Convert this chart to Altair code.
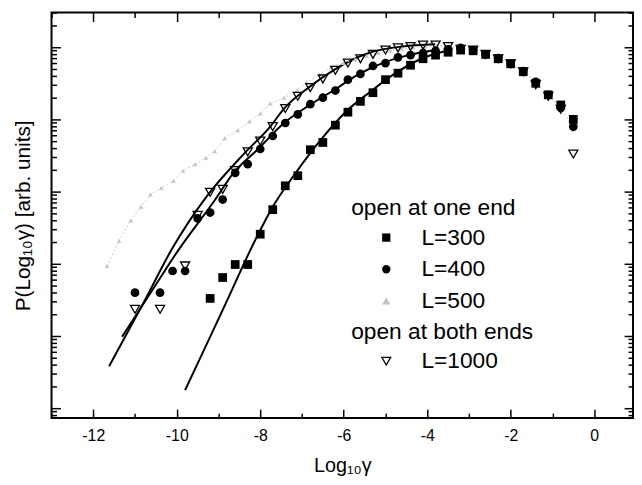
import altair as alt
import pandas as pd

# ---------------- data (x = log10 gamma, lg = log10 P, arbitrary units) -------------
x300 = [-9.2, -8.9, -8.6, -8.3, -8.0, -7.7, -7.4, -7.1, -6.8, -6.5, -6.2, -5.9, -5.6, -5.3,
        -5.0, -4.7, -4.4, -4.1, -3.8, -3.5, -3.2, -2.9, -2.6, -2.3, -2.0, -1.7, -1.4, -1.1,
        -0.8, -0.5]
lg300 = [-3.48, -3.19, -3.01, -3.01, -2.59, -2.25, -1.92, -1.78, -1.42, -1.32, -1.08, -0.90,
         -0.75, -0.63, -0.45, -0.36, -0.25, -0.16, -0.11, -0.07, -0.04, -0.05, -0.10, -0.16,
         -0.23, -0.34, -0.50, -0.66, -0.80, -1.00]

x400 = [-11.0, -10.4, -10.1, -9.8, -9.5, -9.2, -8.9, -8.6, -8.3, -8.0, -7.7, -7.4, -7.1, -6.8,
        -6.5, -6.2, -5.9, -5.6, -5.3, -5.0, -4.7, -4.4, -4.1, -3.8, -3.5, -3.2, -2.9, -2.6,
        -2.3, -2.0, -1.7, -1.4, -1.1, -0.8, -0.5]
lg400 = [-3.40, -3.40, -3.10, -3.10, -2.37, -2.29, -2.11, -1.74, -1.62, -1.41, -1.23, -1.05,
         -0.93, -0.79, -0.70, -0.60, -0.45, -0.37, -0.26, -0.22, -0.14, -0.11, -0.08, -0.05,
         -0.03, -0.01, -0.04, -0.10, -0.15, -0.23, -0.33, -0.48, -0.66, -0.84, -1.10]

x500 = [-11.67, -11.38, -11.10, -10.86, -10.63, -10.37, -10.08, -9.85, -9.56, -9.30, -9.09,
        -8.85, -8.54, -8.26, -8.00, -7.76, -7.43, -7.12, -6.89, -6.58, -6.30, -6.01, -5.73,
        -5.45, -5.17, -4.89, -4.61, -4.33, -4.05, -3.77, -3.50, -3.2, -2.9, -2.6, -2.3, -2.0,
        -1.7, -1.4, -1.1, -0.8, -0.5]
lg500 = [-3.03, -2.68, -2.40, -2.21, -2.04, -1.95, -1.85, -1.71, -1.62, -1.53, -1.44, -1.26,
         -1.15, -1.03, -0.92, -0.78, -0.70, -0.60, -0.49, -0.38, -0.27, -0.22, -0.17, -0.12,
         -0.08, -0.05, -0.02, 0.00, 0.01, 0.02, 0.01, -0.02, -0.04, -0.09, -0.15, -0.22,
         -0.32, -0.49, -0.66, -0.84, -1.14]

x1000 = [-11.0, -10.4, -9.8, -9.5, -9.2, -8.9, -8.6, -8.3, -8.0, -7.7, -7.4, -7.1, -6.8, -6.5,
         -6.2, -5.9, -5.6, -5.3, -5.0, -4.7, -4.4, -4.1, -3.8, -3.5, -3.2, -2.9, -2.6, -2.3,
         -2.0, -1.7, -1.4, -1.1, -0.8, -0.5]
lg1000 = [-3.63, -3.63, -3.03, -2.33, -2.01, -1.97, -1.71, -1.45, -1.30, -1.10, -0.85, -0.68,
          -0.56, -0.44, -0.32, -0.22, -0.16, -0.10, -0.04, -0.01, 0.01, 0.03, 0.03, 0.01,
          -0.03, -0.04, -0.10, -0.16, -0.23, -0.34, -0.52, -0.68, -0.86, -1.48]

# fitted curves
fit300_x = [-9.80, -9.49, -8.90, -8.05, -7.74, -7.15, -6.56, -5.96, -5.37, -4.76, -4.14, -3.53]
fit300_lg = [-4.75, -4.37, -3.64, -2.59, -2.25, -1.74, -1.29, -0.90, -0.62, -0.36, -0.16, -0.05]
fit400_x = [-11.31, -10.58, -9.96, -9.09, -8.64, -8.05, -7.43, -6.84, -6.25, -5.66, -5.07,
            -4.45, -3.81]
fit400_lg = [-4.01, -3.36, -2.81, -2.12, -1.74, -1.41, -1.05, -0.81, -0.60, -0.38, -0.22,
             -0.11, -0.04]
fit1000_x = [-11.62, -10.75, -10.13, -9.30, -8.38, -7.76, -7.43, -6.82, -6.25, -5.70, -5.40,
             -4.59, -3.81]
fit1000_lg = [-4.42, -3.49, -2.81, -2.08, -1.47, -1.10, -0.85, -0.55, -0.32, -0.15, -0.08,
              0.01, 0.04]

# ---------------- tables -------------
def frame(xs, lgs, name):
    return pd.DataFrame({"x": xs, "P": [10 ** v for v in lgs], "series": name})

df500 = frame(x500, lg500, "L=500")
df_sc = pd.concat([frame(x300, lg300, "L=300"), frame(x400, lg400, "L=400")])
df1000 = frame(x1000, lg1000, "L=1000")
df_fit = pd.concat([
    frame(fit300_x, fit300_lg, "fit300"),
    frame(fit400_x, fit400_lg, "fit400"),
    frame(fit1000_x, fit1000_lg, "fit1000"),
])

YLO, YHI = 10 ** -5.137, 10 ** 0.479
xs = alt.Scale(domain=[-13, 0.93], nice=False, zero=False)
ys = alt.Scale(type="log", domain=[YLO, YHI], nice=False)

major_x = [-12, -10, -8, -6, -4, -2, 0]
minor_x = [-13, -11, -9, -7, -5, -3, -1]
major_y = [10.0 ** n for n in range(-5, 1)]
minor_y = [k * 10.0 ** n for n in range(-6, 1) for k in range(2, 10)
           if YLO <= k * 10.0 ** n <= YHI]


def tick_axis(orient, values, size):
    return alt.Axis(orient=orient, values=values, tickSize=size, offset=-size, labels=False,
                    domain=False, title=None, grid=False, ticks=True, tickColor="black",
                    tickWidth=1.5)


label_x = alt.Axis(orient="bottom", values=major_x, ticks=False, domain=False, grid=False,
                   labelFontSize=16, labelColor="black", labelPadding=10,
                   labelExpr="replace(datum.label, '−', '-')",
                   title="Log₁₀γ", titleFontSize=20, titleFontWeight="normal",
                   titleColor="black", titlePadding=12)
label_y = alt.Axis(orient="left", values=major_y, ticks=False, domain=False, grid=False,
                   labels=False, title="P(Log₁₀γ) [arb. units]", titleFontSize=21,
                   titleFontWeight="normal", titleColor="black", titlePadding=18)

legend_common = dict(orient="none", titleFontSize=23, titleFontWeight="normal",
                     labelFontSize=23, titleColor="black", labelColor="black",
                     titlePadding=6, rowPadding=8, symbolOffset=24, labelOffset=24,
                     padding=0, titleLimit=400, labelLimit=300, direction="vertical")

leg1 = alt.Legend(title="open at one end", legendX=303, legendY=187, symbolSize=70,
                  **legend_common)
leg2 = alt.Legend(title="open at both ends", legendX=303, legendY=312, symbolSize=80,
                  symbolStrokeWidth=1.3, **legend_common)

ser_dom = ["L=300", "L=400", "L=500"]
shape_enc = alt.Shape("series:N", scale=alt.Scale(domain=ser_dom,
                      range=["square", "circle", "triangle-up"]), legend=leg1)
color_enc = alt.Color("series:N", scale=alt.Scale(domain=ser_dom,
                      range=["black", "black", "#c4c4c4"]), legend=leg1)

fits = alt.Chart(df_fit).mark_line(color="black", strokeWidth=2, interpolate="monotone").encode(
    x=alt.X("x:Q", scale=xs, axis=label_x),
    y=alt.Y("P:Q", scale=ys, axis=label_y),
    detail="series:N",
)

gray_line = alt.Chart(df500).mark_line(color="#cccccc", strokeWidth=1, strokeDash=[2, 2]).encode(
    x=alt.X("x:Q", scale=xs, axis=tick_axis("bottom", minor_x, 5)),
    y=alt.Y("P:Q", scale=ys, axis=tick_axis("left", minor_y, 5)),
)

gray_pts = alt.Chart(df500).mark_point(filled=True, size=22, opacity=1).encode(
    x=alt.X("x:Q", scale=xs, axis=None),
    y=alt.Y("P:Q", scale=ys, axis=None),
    shape=shape_enc, color=color_enc,
)

sc_pts = alt.Chart(df_sc).mark_point(filled=True, size=78, opacity=1).encode(
    x=alt.X("x:Q", scale=xs, axis=tick_axis("bottom", major_x, 9)),
    y=alt.Y("P:Q", scale=ys, axis=tick_axis("left", major_y, 9)),
    shape=shape_enc, color=color_enc,
)

tri = alt.Chart(df1000).mark_point(filled=False, shape="triangle-down", size=85,
                                   strokeWidth=1.3, opacity=1).encode(
    x=alt.X("x:Q", scale=xs, axis=tick_axis("top", major_x, 9)),
    y=alt.Y("P:Q", scale=ys, axis=tick_axis("right", major_y, 9)),
    stroke=alt.Stroke("series:N", scale=alt.Scale(domain=["L=1000"], range=["black"]),
                      legend=leg2),
)

inv = alt.Chart(df_fit).mark_point(opacity=0).encode(
    x=alt.X("x:Q", scale=xs, axis=tick_axis("top", minor_x, 5)),
    y=alt.Y("P:Q", scale=ys, axis=tick_axis("right", minor_y, 5)),
)

chart = alt.layer(fits, gray_line, gray_pts, sc_pts, tri, inv).resolve_axis(
    x="independent", y="independent"
).properties(
    width=588, height=410,
    padding={"left": 44, "top": 2, "right": 1, "bottom": 64},
    autosize=alt.AutoSizeParams(type="none"),
).configure(font="Liberation Sans").configure_view(stroke="black", strokeWidth=2)

chart.save("out.html", embed_options={"renderer": "svg", "actions": False})
